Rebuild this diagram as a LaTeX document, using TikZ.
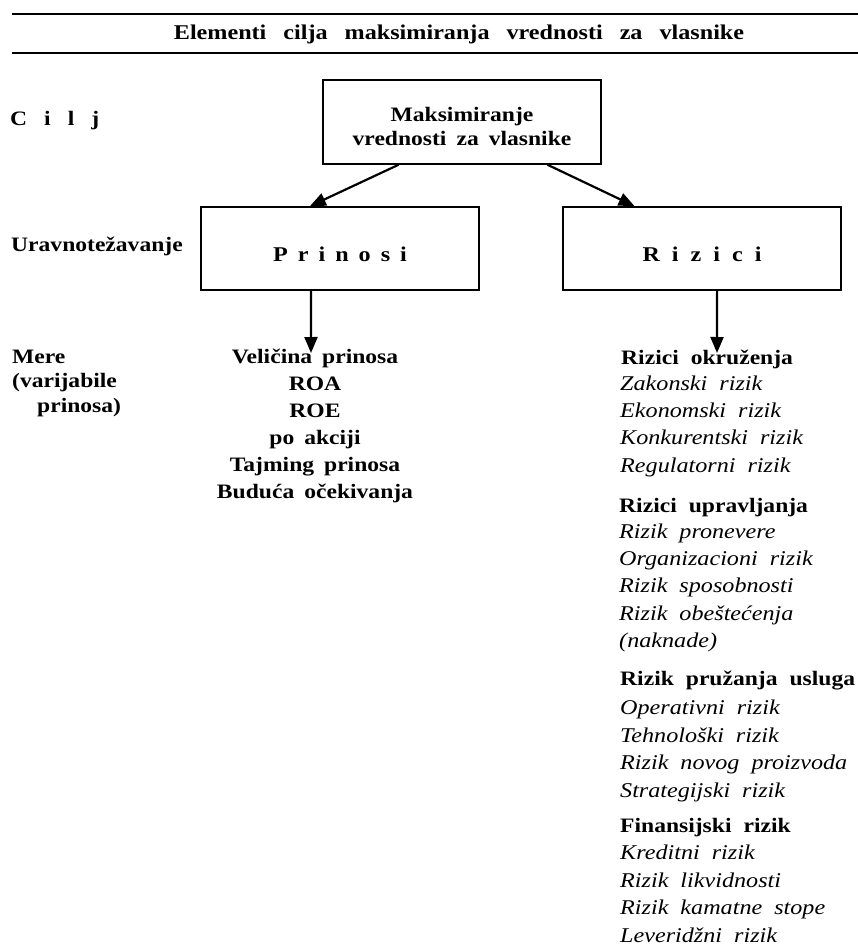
\documentclass[tikz,border=0pt]{standalone}
\usepackage{fontspec}
\setmainfont{Liberation Serif}[FakeStretch=1.15]
\usetikzlibrary{arrows.meta,calc}
\newcommand\lowr[2]{\raisebox{-#1}[\height][\depth]{#2}}
\newcommand\sps[2]{{\spaceskip=#1\relax #2}}
\begin{document}
\begin{tikzpicture}[x=1pt,y=-1pt,
  rule/.style={line width=2.7pt},
  boxst/.style={draw, line width=1.5pt, minimum width=278pt, minimum height=83pt, inner sep=0pt},
  arr/.style={line width=2.2pt, -{Triangle[length=16pt,width=13pt]}},
  bodyb/.style={inner sep=0pt, font=\bfseries\fontsize{20.5}{24}\selectfont},
  bodyi/.style={inner sep=0pt, anchor=mid west, font=\itshape\fontsize{21}{24}\selectfont},
  lbl/.style={bodyb, anchor=mid west},
  ctrb/.style={bodyb, anchor=mid}]
\useasboundingbox (0,0) rectangle (858,947);
% header
\draw[rule] (12,14) -- (858,14);
\draw[rule] (12,53) -- (858,53);
\node[inner sep=0pt, anchor=mid, font=\bfseries\fontsize{21}{24}\selectfont] (title) at (459,37) {\sps{17pt}{Elementi cilja maksimiranja vrednosti za vlasnike}};
% left labels
\node[lbl] (cilj) at (10,123) {\sps{17pt}{C i l j}};
\node[lbl] (urav) at (11,249) {Uravnotežavanje};
\node[lbl] (mere1) at (12,361) {Mere};
\node[lbl] (mere2) at (12,385) {(varijabile};
\node[lbl] (mere3) at (37,410) {prinosa)};
% boxes
\node[boxst, minimum height=84pt, align=center, font=\bfseries\fontsize{20.5}{24}\selectfont] (goal) at (462,122) {\lowr{4pt}{Maksimiranje}\\\lowr{4pt}{\sps{10pt}{vrednosti za vlasnike}}};
\node[boxst, font=\bfseries\fontsize{21}{24}\selectfont] (pb) at (340,248.5) {\lowr{6pt}{\sps{10pt}{P r i n o s i}}};
\node[boxst, font=\bfseries\fontsize{21}{24}\selectfont] (rb) at (702,248.5) {\lowr{6pt}{\sps{12pt}{R i z i c i}}};
% arrows
\coordinate (pe) at (311,353);
\coordinate (re) at (717,353);
\draw[arr] ($(goal.south west)!0.273!(goal.south east)$) -- ($(pb.north west)!0.392!(pb.north east)$);
\draw[arr] ($(goal.south west)!0.806!(goal.south east)$) -- ($(rb.north west)!0.259!(rb.north east)$);
\draw[arr] ($(pb.south west)!0.396!(pb.south east)$) -- (pe);
\draw[arr] ($(rb.south west)!0.554!(rb.south east)$) -- (re);
% centre column
\foreach \t [count=\i] in {Veličina prinosa, ROA, ROE, po akciji, Tajming prinosa, Buduća očekivanja}
  \node[ctrb] (p\i) at (315,{361+27.1*(\i-1)}) {\sps{10pt}{\t}};
% right column
\node[lbl] (h1) at (621,362) {\sps{12pt}{Rizici okruženja}};
\foreach \t [count=\i] in {Zakonski rizik, Ekonomski rizik, Konkurentski rizik, Regulatorni rizik}
  \node[bodyi] (a\i) at (620,{388+27.3*(\i-1)}) {\sps{12pt}{\t}};
\node[lbl] (h2) at (619,510) {\sps{12pt}{Rizici upravljanja}};
\foreach \t [count=\i] in {Rizik pronevere, Organizacioni rizik, Rizik sposobnosti, Rizik obeštećenja, (naknade)}
  \node[bodyi] (b\i) at (619,{536+27.3*(\i-1)}) {\sps{12pt}{\t}};
\node[lbl] (h3) at (620,683) {\sps{12pt}{Rizik pružanja usluga}};
\foreach \t [count=\i] in {Operativni rizik, Tehnološki rizik, Rizik novog proizvoda, Strategijski rizik}
  \node[bodyi] (c\i) at (620,{712+27.7*(\i-1)}) {\sps{12pt}{\t}};
\node[lbl] (h4) at (620,830) {\sps{12pt}{Finansijski rizik}};
\foreach \t [count=\i] in {Kreditni rizik, Rizik likvidnosti, Rizik kamatne stope, Leveridžni rizik}
  \node[bodyi] (d\i) at (620,{857+27.7*(\i-1)}) {\sps{12pt}{\t}};
\end{tikzpicture}
\end{document}
